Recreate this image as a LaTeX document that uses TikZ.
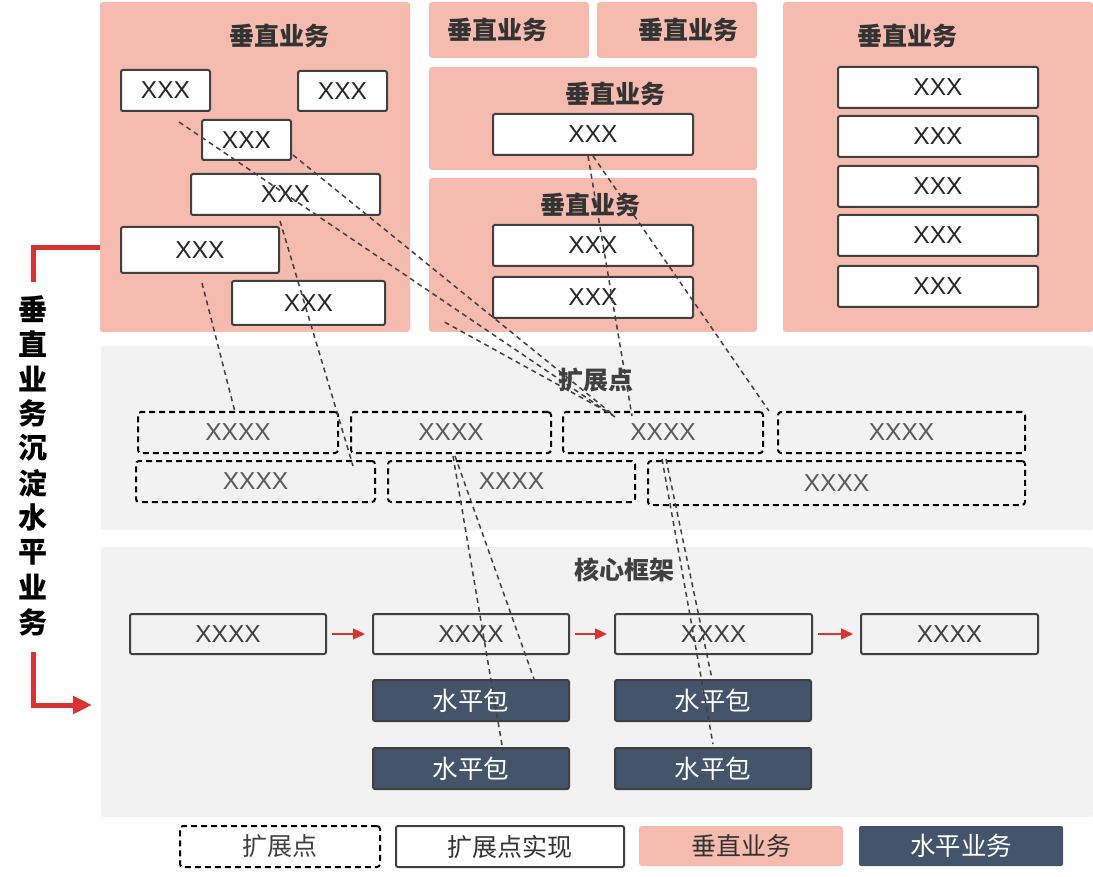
\documentclass[tikz,border=0pt]{standalone}
\usepackage{fontspec}
\setmainfont{Liberation Sans}
\newfontfamily\cjk{Noto Sans CJK SC}
\usetikzlibrary{arrows.meta}
\definecolor{vpink}{HTML}{F5BBAF}
\definecolor{hdark}{HTML}{44546A}
\definecolor{corebg}{HTML}{F2F2F2}
\definecolor{edge}{HTML}{404040}
\definecolor{arrowred}{HTML}{DA3230}
\tikzset{
  pinkpanel/.style={fill=vpink, rounded corners=3pt, inner sep=0pt},
  greypanel/.style={fill=corebg, rounded corners=3pt, inner sep=0pt},
  paneltitle/.style={font=\cjk\bfseries\fontsize{25}{28}\selectfont, text=black!80},
  impl/.style={draw=edge, fill=white, line width=2pt, rounded corners=2pt, inner sep=0pt, font=\fontsize{24.5}{28}\selectfont, text=black!85},
  ext/.style={draw=black, line width=2pt, dash pattern=on 6pt off 4pt, rounded corners=3pt, inner sep=0pt, font=\fontsize{24.5}{28}\selectfont, text=black!65},
  core/.style={draw=edge, line width=2pt, rounded corners=2pt, inner sep=0pt, font=\fontsize{24.5}{28}\selectfont, text=black!75},
  hpack/.style={draw=edge, fill=hdark, line width=2pt, rounded corners=2pt, inner sep=0pt, font=\cjk\fontsize{25.5}{28}\selectfont, text=white},
  link/.style={draw=edge, line width=1.5pt, dash pattern=on 5pt off 4pt},
  flow/.style={draw=arrowred, line width=1.3pt, -{Triangle[length=12pt,width=11pt]}, shorten <=5pt, shorten >=7pt},
  redline/.style={draw=arrowred, line width=5pt}
}
\begin{document}
\begin{tikzpicture}[x=1pt,y=-1pt]
\useasboundingbox (0,0) rectangle (1093,877);

% vertical business panels
\node[pinkpanel, minimum width=310pt, minimum height=330pt] (vp1) at (255,167) {};
\node[pinkpanel, minimum width=160pt, minimum height=56pt] (vp2) at (509,30) {};
\node[pinkpanel, minimum width=160pt, minimum height=56pt] (vp3) at (677,30) {};
\node[pinkpanel, minimum width=328pt, minimum height=103pt] (vp4) at (593,118.5) {};
\node[pinkpanel, minimum width=328pt, minimum height=154pt] (vp5) at (593,255) {};
\node[pinkpanel, minimum width=310pt, minimum height=330pt] (vp6) at (938,167) {};
\node[paneltitle] (t1) at (279,36) {垂直业务};
\node[paneltitle] (t2) at (497,30) {垂直业务};
\node[paneltitle] (t3) at (688,30) {垂直业务};
\node[paneltitle] (t4) at (615,94) {垂直业务};
\node[paneltitle] (t5) at (590,205) {垂直业务};
\node[paneltitle] (t6) at (907,36) {垂直业务};

\node[impl, minimum width=89pt, minimum height=41pt] (a1) at (165.5,90.5) {XXX};
\node[impl, minimum width=89pt, minimum height=40pt] (a2) at (342.5,91) {XXX};
\node[impl, minimum width=89pt, minimum height=40pt] (a3) at (246.5,140) {XXX};
\node[impl, minimum width=189pt, minimum height=41pt] (a4) at (285.5,194.5) {XXX};
\node[impl, minimum width=158pt, minimum height=46pt] (a5) at (200,250) {XXX};
\node[impl, minimum width=153pt, minimum height=44pt] (a6) at (308.5,303) {XXX};
\node[impl, minimum width=200pt, minimum height=41pt] (m1) at (593,134.5) {XXX};
\node[impl, minimum width=200pt, minimum height=41pt] (m2) at (593,245.5) {XXX};
\node[impl, minimum width=200pt, minimum height=41pt] (m3) at (593,297.5) {XXX};
\foreach[count=\i] \y in {87.5,136.5,186.5,235.5,286.5}
  \node[impl, minimum width=200pt, minimum height=41pt] (r\i) at (938,\y) {XXX};

% extension points
\node[greypanel, minimum width=992pt, minimum height=184pt] (gp1) at (597,438) {};
\node[paneltitle, text=black!75] (t7) at (596,380) {扩展点};
\node[ext, minimum width=200pt, minimum height=41pt] (e1) at (238,432.5) {XXXX};
\node[ext, minimum width=200pt, minimum height=41pt] (e2) at (451,432.5) {XXXX};
\node[ext, minimum width=200pt, minimum height=41pt] (e3) at (663,432.5) {XXXX};
\node[ext, minimum width=247pt, minimum height=41pt] (e4) at (901.5,432.5) {XXXX};
\node[ext, minimum width=239pt, minimum height=41pt] (e5) at (255.5,481.5) {XXXX};
\node[ext, minimum width=247pt, minimum height=41pt] (e6) at (511.5,481.5) {XXXX};
\node[ext, minimum width=377pt, minimum height=44pt] (e7) at (836.5,483) {XXXX};

% core framework
\node[greypanel, minimum width=992pt, minimum height=270pt] (gp2) at (597,682) {};
\node[paneltitle, text=black!75] (t8) at (624,570) {核心框架};
\node[core, minimum width=196pt, minimum height=40pt] (c1) at (228,634) {XXXX};
\node[core, minimum width=196pt, minimum height=40pt] (c2) at (471,634) {XXXX};
\node[core, minimum width=197pt, minimum height=40pt] (c3) at (713.5,634) {XXXX};
\node[core, minimum width=177pt, minimum height=40pt] (c4) at (949.5,634) {XXXX};
\foreach \a/\b in {c1/c2,c2/c3,c3/c4}
  \draw[flow] (\a) -- (\b);
\node[hpack, minimum width=196pt, minimum height=41pt] (h1) at (471,700.5) {水平包};
\node[hpack, minimum width=196pt, minimum height=41pt] (h2) at (713,700.5) {水平包};
\node[hpack, minimum width=196pt, minimum height=41pt] (h3) at (471,768.5) {水平包};
\node[hpack, minimum width=196pt, minimum height=41pt] (h4) at (713,768.5) {水平包};

% dashed links
\draw[link] ([shift={(13.5,10)}]a1.south) -- ([shift={(53,6)}]e3.north west);
\draw[link] ([shift={(1,-6)}]a3.south east) -- ([shift={(49,2)}]e3.north west);
\draw[link] ([shift={(16,-10)}]vp5.south west) -- ([shift={(51,4)}]e3.north west);
\draw[link] ([shift={(-5,0)}]m1.south) -- ([shift={(-31,5)}]e3.north);
\draw[link] (m1.south) -- ([shift={(-8,0)}]e4.north west);
\draw[link] ([shift={(2,9)}]a5.south) -- ([shift={(-3,1)}]e1.north);
\draw[link] ([shift={(-5.5,5)}]a4.south) -- ([shift={(-23,6)}]e5.north east);
\draw[link] ([shift={(2,2)}]e2.south) -- ([shift={(32,4)}]h3.north);
\draw[link] ([shift={(4,2)}]e2.south) -- ([shift={(-36,0)}]h1.north east);
\draw[link] ([shift={(15,-1)}]e7.north west) -- ([shift={(0,-3)}]h4.north);
\draw[link] ([shift={(19,-1)}]e7.north west) -- ([shift={(-1,0)}]h2.north);

% side label
\foreach[count=\i] \c in {垂,直,业,务,沉,淀,水,平,业,务}
  \node[font=\cjk\bfseries\fontsize{29}{32}\selectfont, inner sep=0pt] (v\i) at (32.5,309+34.8*\i-34.8) {\c};
\coordinate (brtop) at (33,282);
\coordinate (brbot) at (33,652);
\coordinate (brend) at (92,705);
\draw[redline] (brtop) |- ([yshift=-81pt]vp1.west);
\draw[redline, -{Triangle[length=19pt,width=17pt]}] (brbot) |- (brend);

% legend
\node[ext, text=black!75, font=\cjk\fontsize{25}{28}\selectfont, minimum width=200pt, minimum height=41pt] (l1) at (280,846.5) {扩展点};
\node[impl, text=black!80, font=\cjk\fontsize{25}{28}\selectfont, minimum width=228pt, minimum height=41pt] (l2) at (510,846.5) {扩展点实现};
\node[pinkpanel, text=black!80, font=\cjk\fontsize{25}{28}\selectfont, minimum width=204pt, minimum height=40pt] (l3) at (741,846) {垂直业务};
\node[hpack, draw=none, minimum width=204pt, minimum height=40pt] (l4) at (961,846) {水平业务};
\end{tikzpicture}
\end{document}
